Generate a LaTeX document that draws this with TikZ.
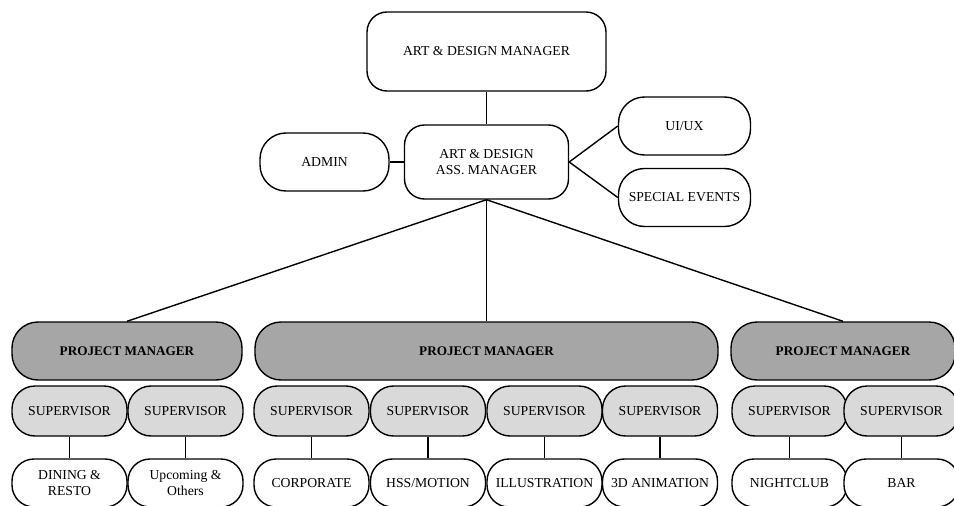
\documentclass[tikz,border=0pt]{standalone}
\usepackage{fontspec}
\setmainfont{Liberation Serif}
\usetikzlibrary{positioning}
\definecolor{pmgray}{HTML}{A6A6A6}
\definecolor{supgray}{HTML}{D9D9D9}

\begin{document}
\begin{tikzpicture}[x=1pt,y=-1pt,on grid,line width=1.4pt,
  main node/.style={draw,rounded corners=20pt,fill=white,align=center,inner sep=1pt,
    font=\fontsize{13.7}{16.5}\selectfont},
  side node/.style={main node,rounded corners=26pt,minimum width=132pt,minimum height=58pt},
  pm node/.style={main node,rounded corners=26pt,fill=pmgray,minimum height=58pt,
    font=\fontsize{13.2}{16}\selectfont\bfseries},
  sup node/.style={main node,rounded corners=23pt,fill=supgray,minimum width=115pt,minimum height=50pt},
  unit node/.style={main node,rounded corners=22pt,minimum width=115pt,minimum height=48pt}]
  \useasboundingbox (0,0) rectangle (954,506);
%top
  \node[main node,minimum width=239pt,minimum height=79pt] (top) at (486.5,51.5) {ART \& DESIGN MANAGER};
%assistant
  \node[main node,minimum width=164pt,minimum height=74pt] (ass) [below=110.5pt of top] {ART \& DESIGN\\ASS. MANAGER};
%side
  \node[side node,minimum width=129pt] (admin) [left=162pt of ass] {ADMIN};
  \node[side node] (uiux) [above right=36pt and 198pt of ass] {UI/UX};
  \node[side node] (events) [below right=35.5pt and 198pt of ass] {SPECIAL EVENTS};
%project managers
  \node[pm node,minimum width=230pt] (pm1) at (127,351) {PROJECT MANAGER};
  \node[pm node,minimum width=463pt] (pm2) at (486.5,351) {PROJECT MANAGER};
  \node[pm node,minimum width=224pt] (pm3) at (843,351) {PROJECT MANAGER};
%supervisors
  \node[sup node] (s1) at (69.5,411) {SUPERVISOR};
  \node[sup node] (s2) at (185.5,411) {SUPERVISOR};
  \node[sup node] (s3) at (311.5,411) {SUPERVISOR};
  \node[sup node] (s4) at (428,411) {SUPERVISOR};
  \node[sup node] (s5) at (544.5,411) {SUPERVISOR};
  \node[sup node] (s6) at (660,411) {SUPERVISOR};
  \node[sup node] (s7) at (789.5,411) {SUPERVISOR};
  \node[sup node] (s8) at (901.5,411) {SUPERVISOR};
%units
  \node[unit node] (u1) [below=72pt of s1] {DINING \&\\RESTO};
  \node[unit node] (u2) [below=72pt of s2] {Upcoming \&\\Others};
  \node[unit node] (u3) [below=72pt of s3] {CORPORATE};
  \node[unit node] (u4) [below=72pt of s4] {HSS/MOTION};
  \node[unit node] (u5) [below=72pt of s5] {ILLUSTRATION};
  \node[unit node] (u6) [below=72pt of s6] {3D ANIMATION};
  \node[unit node] (u7) [below=72pt of s7] {NIGHTCLUB};
  \node[unit node] (u8) [below=72pt of s8] {BAR};
%lines
  \path (top) edge (ass)
    (admin) edge (ass)
    (ass.east) edge (uiux.west) edge (events.west)
    (ass.south) edge (pm1.north) edge (pm2.north) edge (pm3.north)
    (s1) edge (u1)
    (s2) edge (u2)
    (s3) edge (u3)
    (s4) edge (u4)
    (s5) edge (u5)
    (s6) edge (u6)
    (s7) edge (u7)
    (s8) edge (u8);
\end{tikzpicture}
\end{document}
